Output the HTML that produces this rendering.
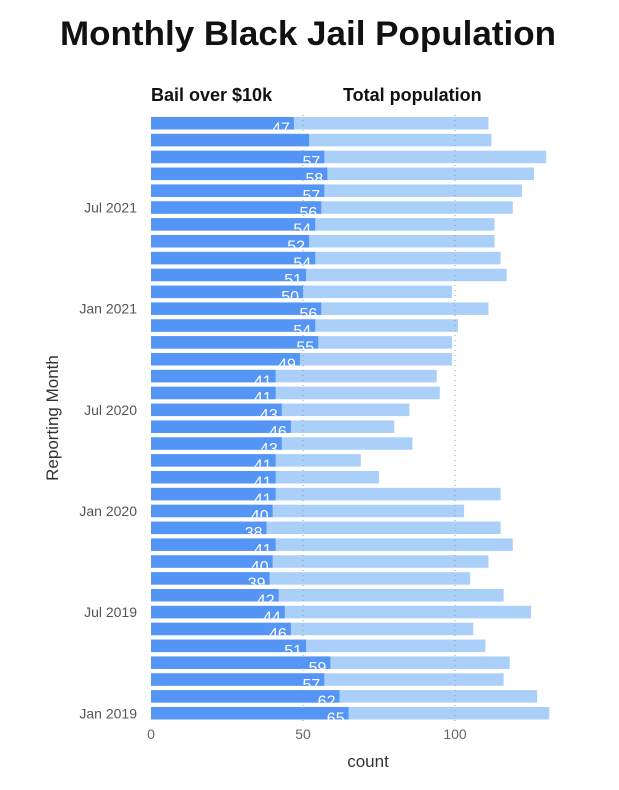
<!DOCTYPE html>
<html><head><meta charset="utf-8"><style>
body{margin:0;background:#fff;width:619px;height:785px;overflow:hidden;font-family:"Liberation Sans",sans-serif}
</style></head><body>
<svg id="chart" width="619" height="785" xmlns="http://www.w3.org/2000/svg">
<text x="308" y="45" text-anchor="middle" font-family="Liberation Sans, sans-serif" font-weight="bold" font-size="34" textLength="496" lengthAdjust="spacingAndGlyphs" fill="#111">Monthly Black Jail Population</text>
<text x="151" y="101" font-weight="bold" font-size="18" fill="#111">Bail over $10k</text>
<text x="343" y="101" font-weight="bold" font-size="18" fill="#111">Total population</text>
<defs id="defs"></defs>
<g id="plot"></g>
<text x="368" y="767" text-anchor="middle" font-size="17" fill="#333">count</text>
<text transform="translate(58,418) rotate(-90)" text-anchor="middle" font-size="17" fill="#333">Reporting Month</text>
</svg>
<script>
// top (Dec 2021) to bottom (Jan 2019)
const bail=[47,52,57,58,57,56,54,52,54,51,50,56,54,55,49,41,41,43,46,43,41,41,41,40,38,41,40,39,42,44,46,51,59,57,62,65];
const total=[111,112,130,126,122,119,113,113,115,117,99,111,101,99,99,94,95,85,80,86,69,75,115,103,115,119,111,105,116,125,106,110,118,116,127,131];
const showLabel=[1,0,1,1,1,1,1,1,1,1,1,1,1,1,1,1,1,1,1,1,1,1,1,1,1,1,1,1,1,1,1,1,1,1,1,1];
const xTicks=[0,50,100];
const yTickLabels=[[5,'Jul 2021'],[11,'Jan 2021'],[17,'Jul 2020'],[23,'Jan 2020'],[29,'Jul 2019'],[35,'Jan 2019']];
const NS='http://www.w3.org/2000/svg';
const g=document.getElementById('plot');
const defs=document.getElementById('defs');
const x=v=>151+v*3.04;
const step=590/35, bh=12.5;
const yTop=i=>117+i*step;
function el(t,a,p){const e=document.createElementNS(NS,t);for(const k in a)e.setAttribute(k,a[k]);(p||g).appendChild(e);return e;}
total.forEach((v,i)=>{
 const r=el('rect',{x:x(0),y:yTop(i),width:x(v)-x(0),height:bh,fill:'#aacff8'});
 
 
});
xTicks.slice(1).forEach(t=>{
 const l=el('line',{x1:x(t),x2:x(t),y1:115,y2:721,stroke:'#999','stroke-width':1,'stroke-dasharray':'1,4'});
 
 
});
bail.forEach((v,i)=>{
 const r=el('rect',{x:x(0),y:yTop(i),width:x(v)-x(0),height:bh,fill:'#5595f5'});
 
 
 const cp=el('clipPath',{id:'c'+i},defs);
 el('rect',{x:x(0),y:yTop(i),width:x(v)-x(0)+2,height:bh},cp);
 if(showLabel[i]){
  const t=el('text',{x:x(v)-4,y:yTop(i)+bh+4,'text-anchor':'end','font-size':16,fill:'#fff','clip-path':'url(#c'+i+')'});
  t.textContent=v;
  
  
 }
});
xTicks.forEach(t=>{
 const e=el('text',{x:x(t),y:739,'text-anchor':'middle','font-size':14,fill:'#666'});
 e.textContent=t;
 
 
});
yTickLabels.forEach(([i,s])=>{
 const e=el('text',{x:137,y:yTop(i)+bh/2+5,'text-anchor':'end','font-size':14,fill:'#555'});
 e.textContent=s;
 
 
});
</script>
</body></html>
